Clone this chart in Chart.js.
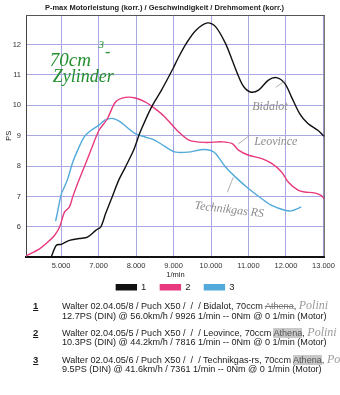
<!DOCTYPE html>
<html>
<head>
<meta charset="utf-8">
<script src="https://cdn.jsdelivr.net/npm/chart.js@4/dist/chart.umd.min.js"></script>
<style>
html,body{margin:0;padding:0;background:#fff;}
#wrap{position:relative;width:340px;height:395px;overflow:hidden;background:#fff;}
#c{position:absolute;left:0;top:0;}
.t{position:absolute;font-family:"Liberation Sans",Arial,sans-serif;font-size:9.1px;color:#1a1a1a;white-space:nowrap;line-height:10.6px;}
.n{position:absolute;font-family:"Liberation Sans",Arial,sans-serif;font-size:9.5px;font-weight:bold;text-decoration:underline;color:#1a1a1a;}
.hw{font-family:"Liberation Serif",serif;font-style:italic;color:#9a9a9a;font-size:12px;}
.ath{color:#555;background:#c8c8c8;}
</style>
</head>
<body>
<div id="wrap">
<canvas id="c" width="340" height="302"></canvas>
<div class="n" style="left:33px;top:300px;">1</div>
<div class="t" style="left:62px;top:300px;">Walter 02.04.05/8 / Puch X50 /&nbsp; /&nbsp; / Bidalot, 70ccm <span style="text-decoration:line-through;color:#777">Athena</span>, <span class="hw">Polini</span></div>
<div class="t" style="left:62px;top:310.5px;">12.7PS (DIN) @ 56.0km/h / 9926 1/min -- 0Nm @ 0 1/min (Motor)</div>
<div class="n" style="left:33px;top:326.5px;">2</div>
<div class="t" style="left:62px;top:326.5px;">Walter 02.04.05/5 / Puch X50 /&nbsp; /&nbsp; / Leovince, 70ccm <span class="ath">Athena</span>, <span class="hw">Polini</span></div>
<div class="t" style="left:62px;top:337px;">10.3PS (DIN) @ 44.2km/h / 7816 1/min -- 0Nm @ 0 1/min (Motor)</div>
<div class="n" style="left:33px;top:353.5px;">3</div>
<div class="t" style="left:62px;top:353.5px;">Walter 02.04.05/6 / Puch X50 /&nbsp; /&nbsp; / Technikgas-rs, 70ccm <span class="ath">Athena</span>, <span class="hw">Polini</span></div>
<div class="t" style="left:62px;top:364px;">9.5PS (DIN) @ 41.6km/h / 7361 1/min -- 0Nm @ 0 1/min (Motor)</div>
</div>
<script>
// ---- data ----
const seriesNames = ['1', '2', '3'];
const rpm1 = [5740,5874,6005,6224,6487,6705,6926,7058,7189,7363,7539,7716,7934,8111,8416,8679,8987,9118,9337,9600,9908,10126,10389,10566,10742,10874,11047,11268,11532,11750,11968,12145,12363,12584,12847,13021];
const ps1  = [5.02,5.40,5.43,5.56,5.62,5.67,5.89,6.00,6.44,6.99,7.54,7.97,8.52,9.12,9.95,10.50,11.21,11.54,12.03,12.47,12.71,12.58,12.03,11.48,10.93,10.61,10.44,10.50,10.83,10.91,10.72,10.28,9.73,9.40,9.18,8.98];
const rpm2 = [5070,5434,5697,5829,5961,6092,6224,6311,6442,6618,6795,7013,7232,7453,7716,7979,8242,8505,8768,9118,9426,9863,10303,10566,10742,11005,11355,11618,11882,12058,12321,12495,12758,12934,13021];
const ps2  = [5.05,5.29,5.56,5.73,6.00,6.49,6.66,6.99,7.43,7.97,8.52,9.18,9.55,10.11,10.26,10.24,10.11,9.89,9.62,9.15,8.85,8.78,8.80,8.74,8.52,8.36,8.25,8.09,7.81,7.48,7.21,7.15,7.12,7.04,6.93];
const rpm3 = [5855,5916,6005,6092,6179,6311,6442,6618,6803,7013,7171,7363,7539,7750,7979,8242,8505,8768,9032,9382,9821,10084,10389,10653,11005,11355,11618,11968,12145,12276,12408];
const ps3  = [6.19,6.55,7.08,7.32,7.59,8.13,8.52,8.96,9.18,9.35,9.51,9.57,9.49,9.29,9.07,8.96,8.85,8.65,8.47,8.46,8.55,8.46,7.97,7.64,7.26,6.93,6.71,6.55,6.53,6.59,6.66];
const xTickValues = [6000,7000,8000,9000,10000,11000,12000,13000];
const xTickLabels = ['5.000','7.000','8.000','9.000','10.000','11.000','12.000','13.000'];
const yTickValues = [6,7,8,9,10,11,12];

// handwritten notes (data coordinates)
const notes = [
  {text:'70cm', x:5700, y:11.47, font:'italic 19px "Liberation Serif"', color:'#23902f', angle:0},
  {text:'3', x:7000, y:11.98, font:'italic 11px "Liberation Serif"', color:'#23902f', angle:0},
  {text:'-', x:7170, y:11.72, font:'italic 16px "Liberation Serif"', color:'#23902f', angle:0},
  {text:'Zylinder', x:5780, y:10.92, font:'italic 18px "Liberation Serif"', color:'#23902f', angle:0},
  {text:'Bidalot', x:11100, y:9.95, font:'italic 12px "Liberation Serif"', color:'#8c8c8c', angle:0},
  {text:'Leovince', x:11150, y:8.80, font:'italic 12px "Liberation Serif"', color:'#8c8c8c', angle:0},
  {text:'Technikgas RS', x:9560, y:6.70, font:'italic 12px "Liberation Serif"', color:'#8c8c8c', angle:0.12}
];
const leaders = [
  [11724,10.59,11987,10.82],
  [10724,8.73,11039,9.02],
  [10592,7.63,10434,7.14]
];

function pts(xs, ys){ return xs.map((v,i)=>({x:v, y:ys[i]})); }

const notesPlugin = {
  id:'notes',
  afterDatasetsDraw(chart){
    const {ctx, scales:{x,y}, chartArea:a} = chart;
    ctx.save();
    ctx.strokeStyle = '#555'; ctx.lineWidth = 1;
    ctx.beginPath();
    ctx.moveTo(a.left, a.top+0.5); ctx.lineTo(a.right, a.top+0.5);
    ctx.moveTo(a.right-0.5, a.top); ctx.lineTo(a.right-0.5, a.bottom);
    ctx.stroke();
    ctx.strokeStyle = '#9a9a9a'; ctx.lineWidth = 0.8;
    leaders.forEach(l=>{
      ctx.beginPath();
      ctx.moveTo(x.getPixelForValue(l[0]), y.getPixelForValue(l[1]));
      ctx.lineTo(x.getPixelForValue(l[2]), y.getPixelForValue(l[3]));
      ctx.stroke();
    });
    notes.forEach(n=>{
      ctx.save();
      ctx.translate(x.getPixelForValue(n.x), y.getPixelForValue(n.y));
      ctx.rotate(n.angle);
      ctx.font = n.font; ctx.fillStyle = n.color;
      ctx.textBaseline = 'middle'; ctx.textAlign = 'left';
      ctx.fillText(n.text, 0, 0);
      ctx.restore();
    });
    ctx.restore();
  }
};

const colors = ['#111111', '#e8397f', '#52aadb'];
const FONT = '"Liberation Sans", Arial, sans-serif';

new Chart(document.getElementById('c'), {
  type:'line',
  data:{
    datasets:[
      {label:seriesNames[0], data:pts(rpm1,ps1), borderColor:colors[0], backgroundColor:colors[0]},
      {label:seriesNames[1], data:pts(rpm2,ps2), borderColor:colors[1], backgroundColor:colors[1]},
      {label:seriesNames[2], data:pts(rpm3,ps3), borderColor:colors[2], backgroundColor:colors[2]}
    ].map(d=>Object.assign(d,{borderWidth:1.4, pointRadius:0, tension:0.3, fill:false}))
  },
  options:{
    responsive:false,
    animation:false,
    layout:{padding:{left:0, right:11, top:0, bottom:0}},
    plugins:{
      title:{display:true, text:'P-max Motorleistung (korr.) / Geschwindigkeit / Drehmoment (korr.)',
        font:{family:FONT, size:7.5, weight:'bold'}, color:'#222', padding:{top:3,bottom:3}},
      legend:{position:'bottom', fullSize:false, labels:{boxWidth:20, boxHeight:5, padding:14, color:'#222',
        font:{family:FONT, size:9.5}}},
      tooltip:{enabled:false}
    },
    scales:{
      x:{type:'linear', min:5065, max:13035,
        afterBuildTicks(s){ s.ticks = xTickValues.map(v=>({value:v})); },
        afterFit(s){ s.height = 12; },
        ticks:{autoSkip:false, maxRotation:0, padding:5, color:'#333', font:{family:FONT, size:7.5},
          callback:(v)=>{ const i = xTickValues.indexOf(v); return i>=0 ? xTickLabels[i] : ''; }},
        grid:{color:'#aaa8e2', lineWidth:1, drawTicks:false},
        border:{color:'#111', width:2},
        title:{display:true, text:'1/min', color:'#222', font:{family:FONT, size:7.5}, padding:{top:0,bottom:-10.5}}
      },
      y:{min:5.03, max:12.97,
        afterBuildTicks(s){ s.ticks = yTickValues.map(v=>({value:v})); },
        afterFit(s){ s.width = 26; },
        ticks:{padding:5, color:'#333', font:{family:FONT, size:7.5}},
        grid:{color:'#aaa8e2', lineWidth:1, drawTicks:false},
        border:{color:'#444', width:1},
        title:{display:true, text:'PS', color:'#222', font:{family:FONT, size:7.5}, padding:{top:4,bottom:0}}
      }
    }
  },
  plugins:[notesPlugin]
});
</script>
</body>
</html>
